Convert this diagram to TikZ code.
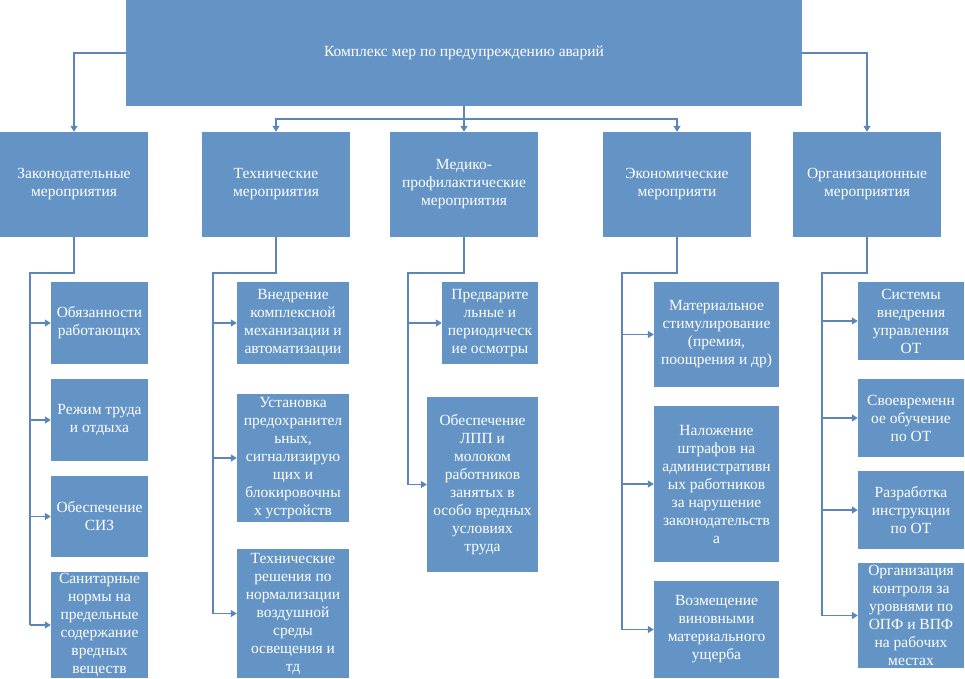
\documentclass[tikz,border=0pt]{standalone}
\usepackage{fontspec}
\setmainfont{Liberation Serif}
\usetikzlibrary{arrows.meta}
\definecolor{boxblue}{HTML}{6494C5}
\definecolor{lineblue}{HTML}{5B86BA}
\begin{document}
\begin{tikzpicture}[x=1pt,y=-1pt,
  box/.style={draw=none,fill=boxblue,text=white,align=center,inner sep=0pt,
    font=\fontsize{15.5}{18}\selectfont},
  conn/.style={draw=lineblue,line width=1.3pt},
  arr/.style={conn,-{Triangle[width=7pt,length=6pt]}}]
\useasboundingbox (0,0) rectangle (965,678);
% top
\node[box,minimum width=676,minimum height=106] (top) at (464,53) {Комплекс мер по предупреждению аварий};
% level 2
\node[box,minimum width=148,minimum height=105] (zak) at (74,184.5) {Законодательные\\мероприятия};
\node[box,minimum width=148,minimum height=105] (tech) at (276,184.5) {Технические\\мероприятия};
\node[box,minimum width=148,minimum height=105] (med) at (464,184.5) {Медико-\\профилактические\\мероприятия};
\node[box,minimum width=148,minimum height=105] (econ) at (677,184.5) {Экономические\\мероприяти};
\node[box,minimum width=148,minimum height=105] (org) at (867,184.5) {Организационные\\мероприятия};
% column 1
\node[box,minimum width=97,minimum height=82] (a1) at (99.5,323) {Обязанности\\работающих};
\node[box,minimum width=97,minimum height=82] (a2) at (99.5,420) {Режим труда\\и отдыха};
\node[box,minimum width=97,minimum height=81] (a3) at (99.5,516.5) {Обеспечение\\СИЗ};
\node[box,minimum width=97,minimum height=106] (a4) at (99.5,625) {Санитарные\\нормы на\\предельные\\содержание\\вредных\\веществ};
% column 2
\node[box,minimum width=112,minimum height=82] (b1) at (293,323) {Внедрение\\комплексной\\механизации и\\автоматизации};
\node[box,minimum width=112,minimum height=128] (b2) at (293,458) {Установка\\предохранител\\ьных,\\сигнализирую\\щих и\\блокировочны\\х устройств};
\node[box,minimum width=112,minimum height=129] (b3) at (293,613.5) {Технические\\решения по\\нормализации\\воздушной\\среды\\освещения и\\тд};
% column 3
\node[box,minimum width=96,minimum height=82] (c1) at (490,323) {Предварите\\льные и\\периодическ\\ие осмотры};
\node[box,minimum width=111,minimum height=175] (c2) at (482.5,484.5) {Обеспечение\\ЛПП и\\молоком\\работников\\занятых в\\особо вредных\\условиях\\труда};
% column 4
\node[box,minimum width=125,minimum height=105] (d1) at (716.5,334.5) {Материальное\\стимулирование\\(премия,\\поощрения и др)};
\node[box,minimum width=125,minimum height=156] (d2) at (716.5,484) {Наложение\\штрафов на\\административн\\ых работников\\за нарушение\\законодательств\\а};
\node[box,minimum width=125,minimum height=97] (d3) at (716.5,629.5) {Возмещение\\виновными\\материального\\ущерба};
% column 5
\node[box,minimum width=106,minimum height=78] (e1) at (911,321) {Системы\\внедрения\\управления\\ОТ};
\node[box,minimum width=106,minimum height=78] (e2) at (911,418) {Своевременн\\ое обучение\\по ОТ};
\node[box,minimum width=106,minimum height=78] (e3) at (911,510) {Разработка\\инструкции\\по ОТ};
\node[box,minimum width=106,minimum height=105] (e4) at (911,615.5) {Организация\\контроля за\\уровнями по\\ОПФ и ВПФ\\на рабочих\\местах};
% top connectors
\draw[arr] (top.west) -| (zak.north);
\draw[arr] (top.east) -| (org.north);
\draw[arr] (top.south) -- (med.north);
\coordinate (hb) at (464,119);
\draw[arr] (hb) -| (tech.north);
\draw[arr] (hb) -| (econ.north);
% column connectors
\coordinate (ta) at (30,273);
\draw[conn] (zak.south) |- (ta) -- (ta |- a4.west);
\foreach \n in {a1,a2,a3,a4} \draw[arr] (ta |- \n.west) -- (\n.west);
\coordinate (tb) at (213,273);
\draw[conn] (tech.south) |- (tb) -- (tb |- b3.west);
\foreach \n in {b1,b2,b3} \draw[arr] (tb |- \n.west) -- (\n.west);
\coordinate (tc) at (408,273);
\draw[conn] (med.south) |- (tc) -- (tc |- c2.west);
\foreach \n in {c1,c2} \draw[arr] (tc |- \n.west) -- (\n.west);
\coordinate (td) at (622,273);
\draw[conn] (econ.south) |- (td) -- (td |- d3.west);
\foreach \n in {d1,d2,d3} \draw[arr] (td |- \n.west) -- (\n.west);
\coordinate (te) at (822,273);
\draw[conn] (org.south) |- (te) -- (te |- e4.west);
\foreach \n in {e1,e2,e3,e4} \draw[arr] (te |- \n.west) -- (\n.west);
\end{tikzpicture}
\end{document}
